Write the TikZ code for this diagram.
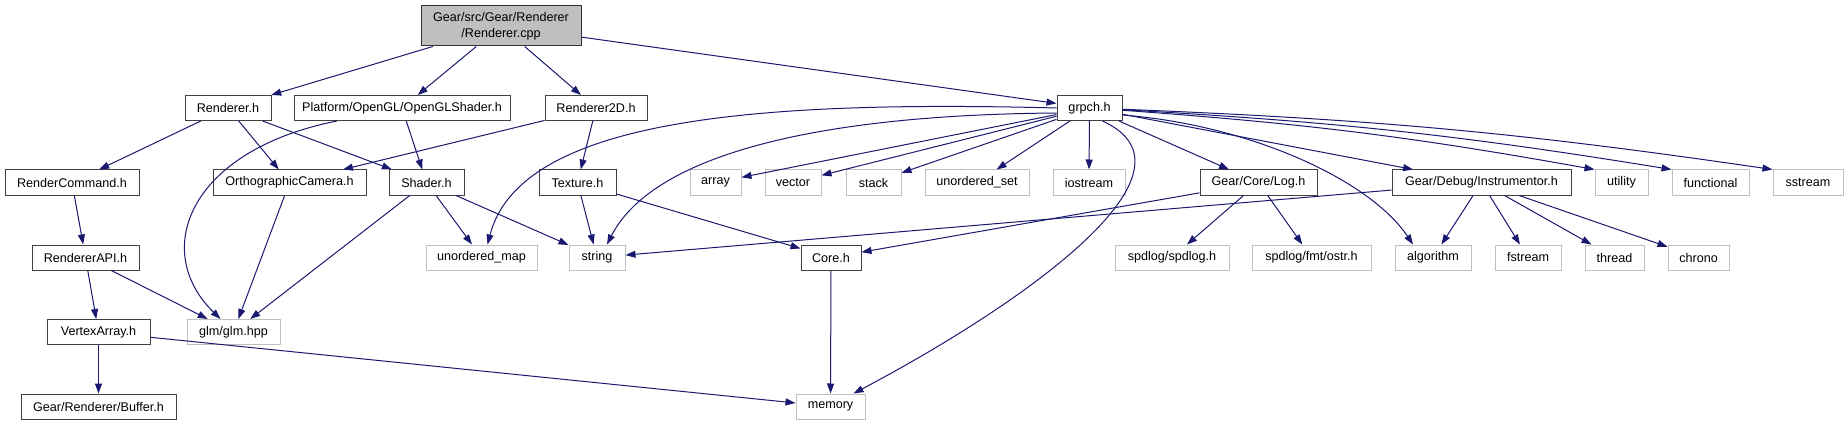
\documentclass[tikz,border=0pt]{standalone}
\usepackage{fontspec}
\setmainfont{Liberation Sans}
\usetikzlibrary{arrows.meta, positioning, calc}
\definecolor{edgeblue}{HTML}{191970}
\definecolor{sysgray}{HTML}{BFBFBF}

\begin{document}
\begin{tikzpicture}[
    x=1pt, y=-1pt,
    font=\fontsize{12.6pt}{15.5pt}\selectfont,
    >={Triangle[length=10pt, width=7pt]},
    % boxes of the include graph
    block/.style={rectangle, draw=black!75, line width=1pt, align=center, inner sep=2pt, minimum height=25pt},
    hdr/.style={block},
    sys/.style={block, draw=sysgray},
    src/.style={block, fill=sysgray, draw=black!80, minimum height=40pt},
    link/.style={->, edgeblue, line width=1pt}
]

    \useasboundingbox (0,0) rectangle (1848,425);

    % ================= 0. SOURCE FILE =================
    \node[src, minimum width=160pt] (cpp) at (501,26) {Gear/src/Gear/Renderer\\/Renderer.cpp};

    % ================= 1. DIRECT INCLUDES =================
    \node[hdr, minimum width=86pt] (rendh) at (228,108) {Renderer.h};
    \node[hdr, minimum width=216pt] (glshader) at (402,108) {Platform/OpenGL/OpenGLShader.h};
    \node[hdr, minimum width=102pt] (r2d) at (596,108) {Renderer2D.h};
    \node[hdr, minimum width=65pt] (grpch) at (1089.5,108) {grpch.h};

    % ================= 2. SECOND LEVEL =================
    \node[hdr, minimum width=134pt] (rcmd) at (72,182.5) {RenderCommand.h};
    \node[hdr, minimum width=153pt] (ortho) at (289.5,182.5) {OrthographicCamera.h};
    \node[hdr, minimum width=75pt] (shader) at (426.5,182.5) {Shader.h};
    \node[hdr, minimum width=77pt] (texture) at (577.5,182.5) {Texture.h};
    \node[sys, minimum width=51pt] (array) at (715.5,182.5) {array};
    \node[sys, minimum width=56pt] (vector) at (793,182.5) {vector};
    \node[sys, minimum width=55pt] (stack) at (873.5,182.5) {stack};
    \node[sys, minimum width=104pt] (uset) at (977,182.5) {unordered\_set};
    \node[sys, minimum width=72pt] (iostream) at (1089,182.5) {iostream};
    \node[hdr, minimum width=117pt] (log) at (1258.5,182.5) {Gear/Core/Log.h};
    \node[hdr, minimum width=179pt] (instr) at (1481.5,182.5) {Gear/Debug/Instrumentor.h};
    \node[sys, minimum width=53pt] (utility) at (1621.5,182.5) {utility};
    \node[sys, minimum width=77pt] (functional) at (1710.5,182.5) {functional};
    \node[sys, minimum width=70pt] (sstream) at (1808,182.5) {sstream};

    % ================= 3. THIRD LEVEL =================
    \node[hdr, minimum width=107pt] (rapi) at (85.5,257.5) {RendererAPI.h};
    \node[sys, minimum width=111pt] (umap) at (481.5,257.5) {unordered\_map};
    \node[sys, minimum width=56pt] (string) at (597,257.5) {string};
    \node[hdr, minimum width=60pt] (core) at (831,257.5) {Core.h};
    \node[sys, minimum width=114pt] (spdlog) at (1172,257.5) {spdlog/spdlog.h};
    \node[sys, minimum width=119pt] (ostr) at (1311.5,257.5) {spdlog/fmt/ostr.h};
    \node[sys, minimum width=76pt] (algorithm) at (1433,257.5) {algorithm};
    \node[sys, minimum width=66pt] (fstream) at (1528,257.5) {fstream};
    \node[sys, minimum width=59pt] (thread) at (1614.5,257.5) {thread};
    \node[sys, minimum width=61pt] (chrono) at (1698.5,257.5) {chrono};

    % ================= 4./5. BOTTOM =================
    \node[hdr, minimum width=103pt] (varray) at (98.5,332) {VertexArray.h};
    \node[sys, minimum width=93pt] (glm) at (233.5,332) {glm/glm.hpp};
    \node[hdr, minimum width=155pt] (buffer) at (98.5,406.5) {Gear/Renderer/Buffer.h};
    \node[sys, minimum width=69pt] (memory) at (830.5,406.5) {memory};

    % ================= EDGES: RENDERER.CPP =================
    \draw[link] (cpp) -- (rendh);
    \draw[link] (cpp) -- (glshader);
    \draw[link] (cpp) -- (r2d);
    \draw[link] (cpp) -- (grpch);

    % ================= EDGES: RENDERER SIDE =================
    \draw[link] (rendh) -- (rcmd);
    \draw[link] (rendh) -- (ortho);
    \draw[link] (rendh) -- (shader);
    \draw[link] (glshader) -- (shader);
    \draw[link] ([xshift=-65pt]glshader.south) .. controls (190,150) and (150,250) .. ([xshift=-13pt]glm.north);
    \draw[link] (r2d) -- (ortho);
    \draw[link] (r2d) -- (texture);
    \draw[link] (rcmd) -- (rapi);
    \draw[link] (rapi) -- (varray);
    \draw[link] (rapi) -- (glm);
    \draw[link] (ortho) -- (glm);
    \draw[link] (shader) -- (glm);
    \draw[link] (shader) -- (umap);
    \draw[link] (shader) -- (string);
    \draw[link] (texture) -- (string);
    \draw[link] (texture) -- (core);
    \draw[link] (core) -- (memory);
    \draw[link] (varray) -- (buffer);
    \draw[link] (varray) -- (memory);

    % ================= EDGES: GRPCH.H =================
    \draw[link] (grpch.west) .. controls (750,100) and (520,120) .. ([xshift=6pt]umap.north);
    \draw[link] ([yshift=-5pt]grpch.west) .. controls (800,115) and (650,160) .. ([xshift=10pt]string.north);
    \draw[link] (grpch) -- (array);
    \draw[link] (grpch) -- (vector);
    \draw[link] (grpch) -- (stack);
    \draw[link] (grpch) -- (uset);
    \draw[link] (grpch) -- (iostream);
    \draw[link] ([xshift=13pt]grpch.south) .. controls (1210,170) and (1030,300) .. ([xshift=-12pt]memory.north east);
    \draw[link] (grpch) -- (log);
    \draw[link] (grpch) -- (instr);
    \draw[link] ([yshift=-7pt]grpch.east) .. controls (1250,125) and (1370,180) .. ([xshift=-20pt]algorithm.north);
    \draw[link] (grpch) to[bend left=3] (utility.north west);
    \draw[link] (grpch) to[bend left=3] (functional.north west);
    \draw[link] (grpch) to[bend left=3] (sstream.north west);

    % ================= EDGES: LOG / INSTRUMENTOR =================
    \draw[link] (log) -- (core);
    \draw[link] (log) -- (spdlog);
    \draw[link] (log) -- (ostr);
    \draw[link] (instr) -- (string);
    \draw[link] (instr) -- (algorithm);
    \draw[link] (instr) -- (fstream);
    \draw[link] (instr) -- (thread);
    \draw[link] (instr) -- (chrono);

\end{tikzpicture}
\end{document}
